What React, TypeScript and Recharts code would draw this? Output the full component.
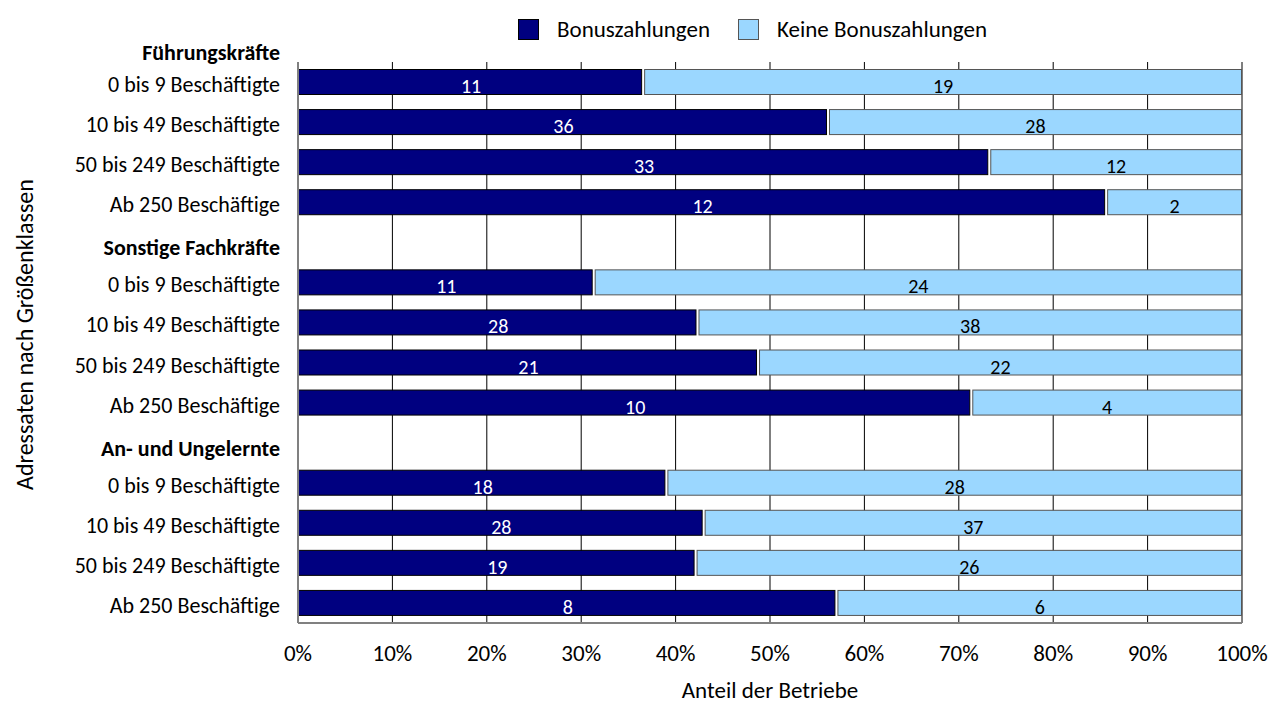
import { Bar, BarChart, CartesianGrid, LabelList, XAxis, YAxis } from 'recharts'

const groups = ['Führungskräfte', 'Sonstige Fachkräfte', 'An- und Ungelernte']
const sizeClasses = ['0 bis 9 Beschäftigte', '10 bis 49 Beschäftigte', '50 bis 249 Beschäftigte', 'Ab 250 Beschäftige']
const bonusCounts = [
  [11, 36, 33, 12],
  [11, 28, 21, 10],
  [18, 28, 19, 8],
]
const noBonusCounts = [
  [19, 28, 12, 2],
  [24, 38, 22, 4],
  [28, 37, 26, 6],
]
const xTicks = [0, 0.1, 0.2, 0.3, 0.4, 0.5, 0.6, 0.7, 0.8, 0.9, 1]

const FONT = 'Calibri, Carlito, Lato, "Open Sans", sans-serif'
const NAVY = '#000080'
const LIGHT = '#9bd7ff'

interface Row {
  id: string
  label: string
  header?: string
  top?: string
  bonus?: number
  none?: number
}

const rows: Row[] = []
groups.forEach((group, gi) => {
  if (gi > 0) rows.push({ id: `h${gi}`, label: '', header: group })
  sizeClasses.forEach((size, si) => {
    rows.push({
      id: `g${gi}s${si}`,
      label: size,
      top: gi === 0 && si === 0 ? group : undefined,
      bonus: bonusCounts[gi][si],
      none: noBonusCounts[gi][si],
    })
  })
})

function YTick({ x, y, payload }: any) {
  const row = rows.find((r) => r.id === payload.value)
  if (!row) return null
  return (
    <g fontFamily={FONT} fontSize={22} fill="#000">
      {row.top && (
        <text x={x} y={y - 30} dy={8} textAnchor="end" fontWeight="bold">
          {row.top}
        </text>
      )}
      <text x={x} y={y + (row.header ? 5 : 2)} dy={8} textAnchor="end" fontWeight={row.header ? 'bold' : 'normal'}>
        {row.header ?? row.label}
      </text>
    </g>
  )
}

const makeLabel = (color: string) => (props: any) => {
  const vb = props.viewBox ?? props
  if (props.value == null || !vb.width) return null
  return (
    <text
      x={vb.x + vb.width / 2}
      y={vb.y + vb.height / 2}
      dy={11}
      textAnchor="middle"
      fill={color}
      fontFamily={FONT}
      fontSize={20}
    >
      {props.value}
    </text>
  )
}

function NavyShape(p: any) {
  if (!p.width || p.width <= 0) return null
  return (
    <rect x={p.x + 0.5} y={p.y + 0.5} width={Math.max(p.width - 3, 0)} height={p.height - 1} fill={NAVY} stroke="#000" />
  )
}

function LightShape(p: any) {
  if (!p.width || p.width <= 0) return null
  return (
    <rect x={p.x + 0.5} y={p.y + 0.5} width={Math.max(p.width - 1, 0)} height={p.height - 1} fill={LIGHT} stroke="#555" />
  )
}

function XTitle({ viewBox }: any) {
  return (
    <text x={viewBox.x + viewBox.width / 2} y={viewBox.y + 75} textAnchor="middle" fontFamily={FONT} fontSize={23} fill="#000">
      Anteil der Betriebe
    </text>
  )
}

function YTitle({ viewBox }: any) {
  const cy = viewBox.y + viewBox.height / 2 - 8
  return (
    <text x={33} y={cy} transform={`rotate(-90, 33, ${cy})`} textAnchor="middle" fontFamily={FONT} fontSize={24} fill="#000">
      Adressaten nach Größenklassen
    </text>
  )
}

function LegendBox() {
  const item = (color: string, stroke: string, text: string) => (
    <div style={{ display: 'flex', alignItems: 'center', marginRight: 28 }}>
      <div style={{ width: 19, height: 19, background: color, border: `1px solid ${stroke}`, marginRight: 18 }} />
      <span>{text}</span>
    </div>
  )
  return (
    <div
      style={{
        position: 'absolute',
        top: 16,
        left: 518,
        display: 'flex',
        fontFamily: FONT,
        fontSize: 23,
        lineHeight: '26px',
        color: '#000',
      }}
    >
      {item(NAVY, '#000', 'Bonuszahlungen')}
      {item(LIGHT, '#555', 'Keine Bonuszahlungen')}
    </div>
  )
}

export default function App() {
  return (
    <div style={{ position: 'absolute', left: 0, top: 0, width: 1273, height: 704, background: '#fff' }}>
      <BarChart
        width={1273}
        height={704}
        data={rows}
        layout="vertical"
        stackOffset="expand"
        barSize={26}
        margin={{ top: 62, right: 31, bottom: 0, left: 0 }}
      >
        <CartesianGrid horizontal={false} vertical stroke="#000" />
        <XAxis
          type="number"
          domain={[0, 1]}
          ticks={xTicks}
          tickFormatter={(v: number) => `${Math.round(v * 100)}%`}
          tick={{ fill: '#000', fontSize: 23, fontFamily: FONT }}
          tickLine={false}
          tickSize={0}
          tickMargin={22}
          axisLine={{ stroke: '#808080', strokeWidth: 2 }}
          height={81}
          label={{ content: XTitle }}
        />
        <XAxis xAxisId="top" orientation="top" type="number" domain={[0, 1]} height={0} tick={false} tickLine={false} axisLine={{ stroke: '#000' }} />
        <YAxis
          type="category"
          dataKey="id"
          width={298}
          tick={YTick}
          tickLine={false}
          tickSize={0}
          tickMargin={18}
          interval={0}
          axisLine={{ stroke: '#808080', strokeWidth: 2 }}
          label={{ content: YTitle }}
        />
        <YAxis yAxisId="right" orientation="right" type="category" dataKey="id" width={0} tick={false} tickLine={false} axisLine={{ stroke: '#808080', strokeWidth: 2 }} />
        <Bar dataKey="bonus" stackId="a" fill={NAVY} shape={NavyShape} isAnimationActive={false}>
          <LabelList dataKey="bonus" content={makeLabel('#fff')} />
        </Bar>
        <Bar dataKey="none" stackId="a" fill={LIGHT} shape={LightShape} isAnimationActive={false}>
          <LabelList dataKey="none" content={makeLabel('#000')} />
        </Bar>
      </BarChart>
      <LegendBox />
    </div>
  )
}
